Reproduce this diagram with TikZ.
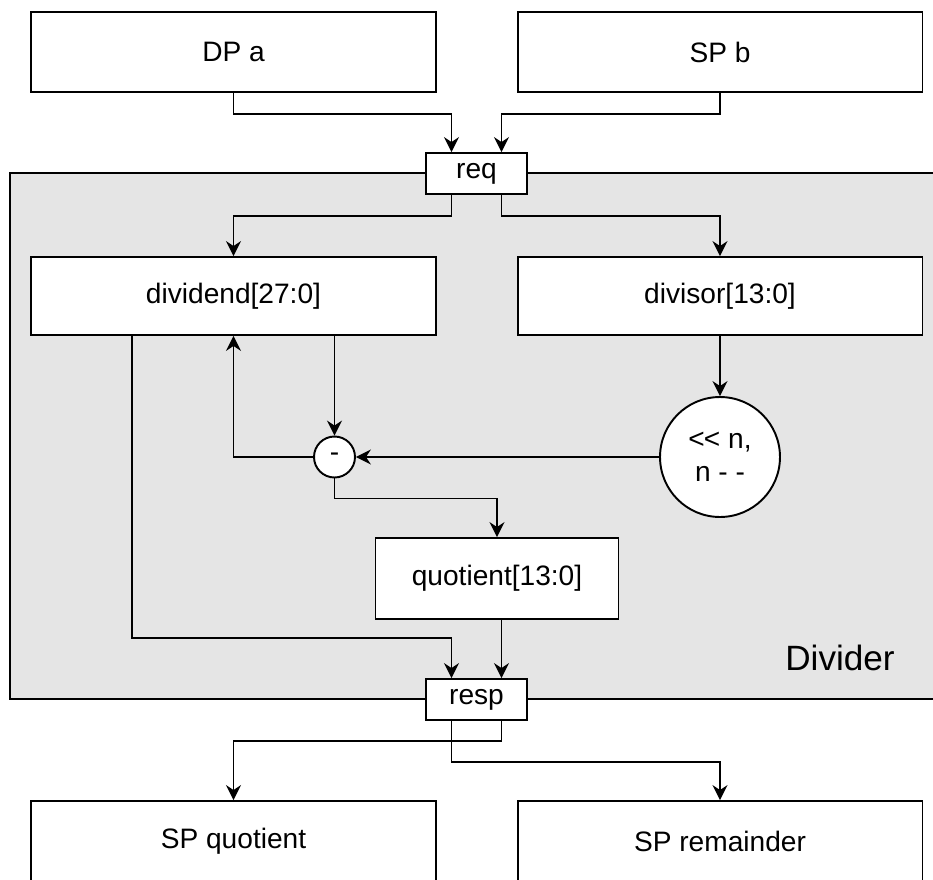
\documentclass[tikz,border=0pt]{standalone}
\usepackage{fontspec}
\setmainfont{Liberation Sans}
\usetikzlibrary{calc,arrows.meta}

\tikzset{
    box/.style={draw, rectangle, fill=white, minimum width=8.1cm, minimum height=1.6cm, inner sep=0pt},
    port/.style={draw, rectangle, fill=white, minimum width=2.02cm, minimum height=0.82cm, inner sep=0pt},
    arr/.style={-{Stealth[length=8.5pt, width=8.5pt, inset=2.8pt]}},
}

\begin{document}
\begin{tikzpicture}[x=0.02cm, y=-0.02cm, line width=1.1pt, every node/.style={font=\fontsize{16}{19}\selectfont}]
    \useasboundingbox (0,0) rectangle (933,879);

    % Divider block
    \draw[fill=gray!20] (10,173) rectangle (960,699);
    \node[font=\fontsize{20}{23}\selectfont] (divlabel) at (840,658) {Divider};

    % Inputs
    \node[box] (dpa) at (233.5,52) {DP a};
    \node[box] (spb) at (720,52) {SP b};
    \node[port] (req) at (476.5,173.5) {req};

    % Registers
    \node[box, minimum height=1.56cm] (dividend) at (233.5,296) {dividend[27:0]};
    \node[box, minimum height=1.56cm] (divisor) at (720,296) {divisor[13:0]};
    \node[draw, circle, fill=white, minimum size=0.82cm, inner sep=0pt] (minus) at (334.5,457) {-};
    \node[draw, circle, fill=white, minimum size=2.4cm, inner sep=0pt, align=center] (shift) at (720,457) {<\kern-0.5pt< n,\\n - -};
    \node[box, minimum width=4.86cm, minimum height=1.62cm] (quotient) at (497,578.5) {quotient[13:0]};

    % Outputs
    \node[port] (resp) at (476.5,699.5) {resp};
    \node[box] (spq) at (233.5,841) {SP quotient};
    \node[box] (spr) at (720,841) {SP remainder};

    % Edges
    \draw[arr] (dpa.south) -- ++(0,21) -| ($(req.north)+(-25,0)$);
    \draw[arr] (spb.south) -- ++(0,21) -| ($(req.north)+(25,0)$);
    \draw[arr] ($(req.south)+(-25,0)$) -- ++(0,21) -| (dividend.north);
    \draw[arr] ($(req.south)+(25,0)$) -- ++(0,21) -| (divisor.north);
    \draw[arr] (divisor.south) -- (shift.north);
    \draw[arr] (shift.west) -- (minus.east);
    \draw[arr] (dividend.south -| minus.north) -- (minus.north);
    \draw[arr] (minus.west) -| (dividend.south);
    \draw[arr] (minus.south) -- ++(0,20) -| (quotient.north);
    \draw[arr] ($(dividend.south)+(-101.5,0)$) |- ($(resp.north)+(-25,-40)$) -- ($(resp.north)+(-25,0)$);
    \draw[arr] ($(quotient.south)+(4.5,0)$) -- ($(resp.north)+(25,0)$);
    \draw[arr] ($(resp.south)+(25,0)$) -- ++(0,20) -| (spq.north);
    \draw[arr] ($(resp.south)+(-25,0)$) -- ++(0,41) -| (spr.north);
\end{tikzpicture}
\end{document}
